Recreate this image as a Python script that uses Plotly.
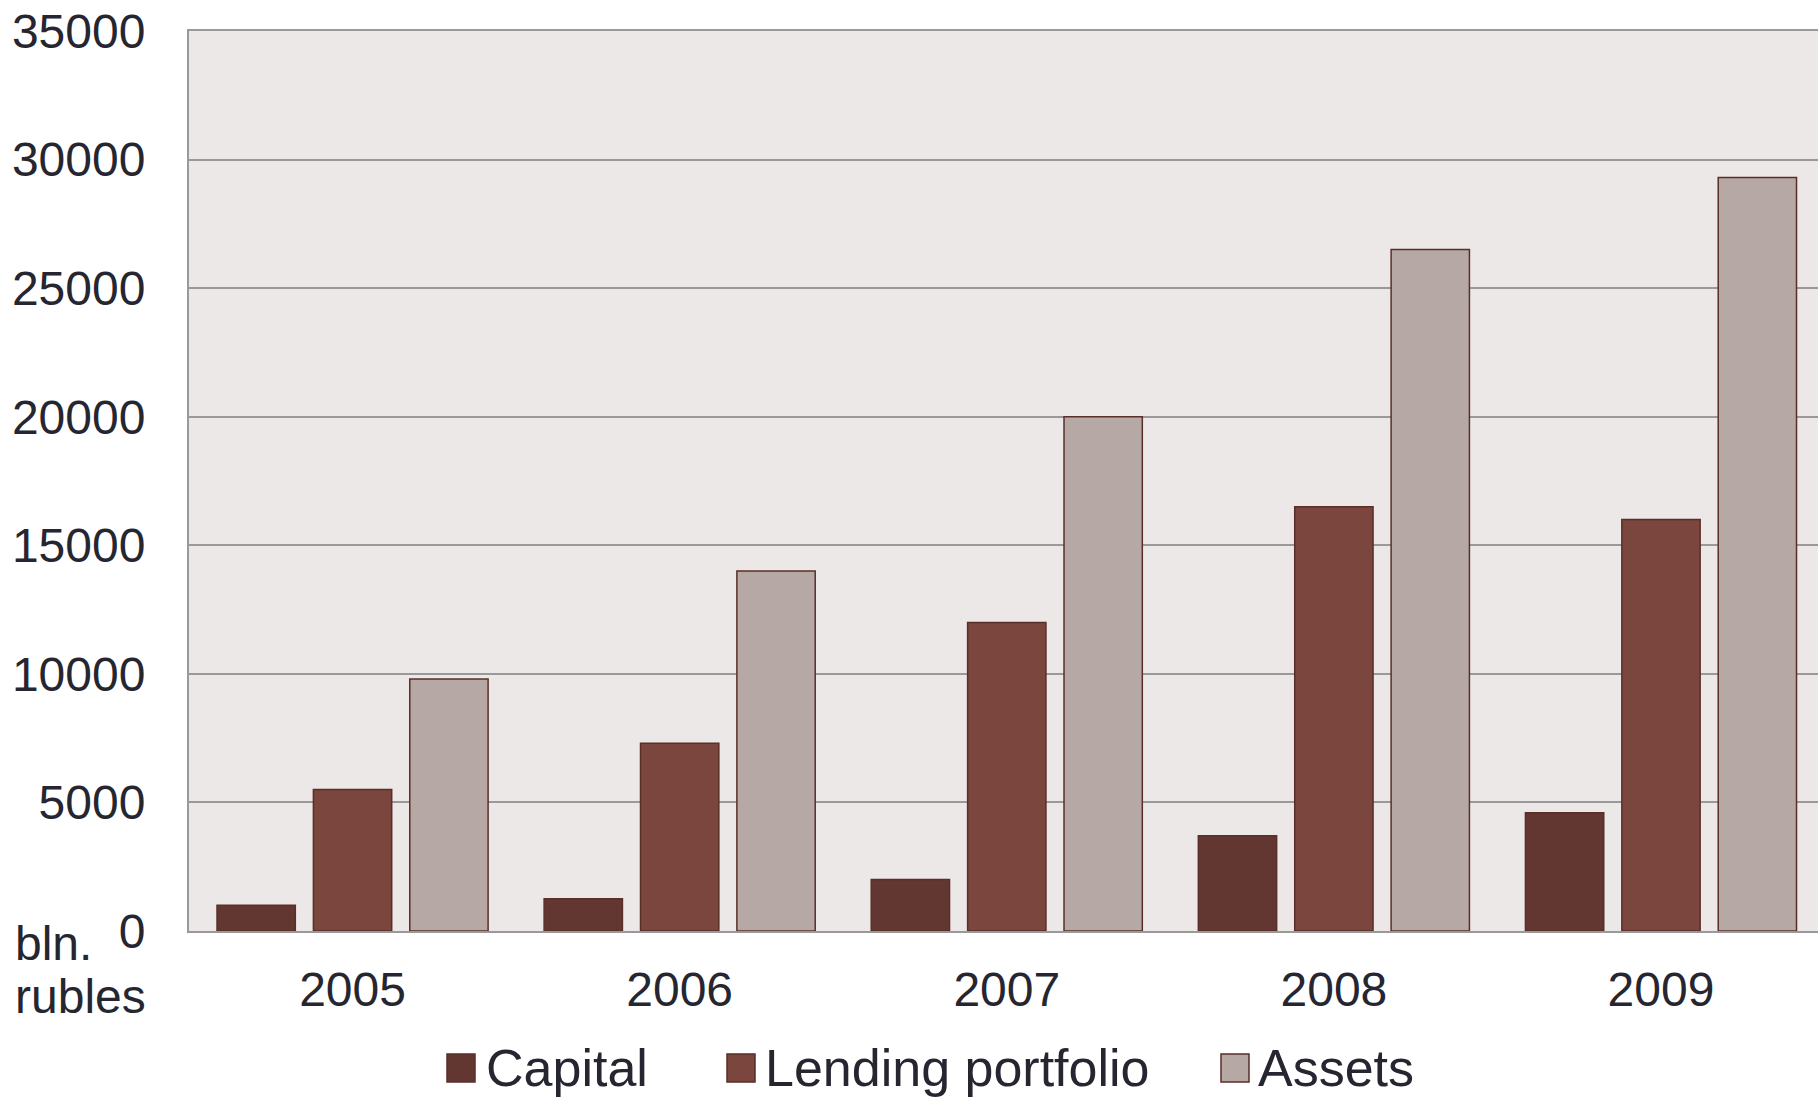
import plotly.graph_objects as go

years = ["2005", "2006", "2007", "2008", "2009"]
capital = [1000, 1250, 2000, 3700, 4600]
lending = [5500, 7300, 12000, 16500, 16000]
assets = [9800, 14000, 20000, 26500, 29300]
series_names = ["Capital", "Lending portfolio", "Assets"]
y_ticks = [0, 5000, 10000, 15000, 20000, 25000, 30000, 35000]

colors = ["#633731", "#7A463D", "#B6A8A5"]
outline = "#5A2E29"
text_color = "#262631"
FONT = "Liberation Sans, Arial, sans-serif"

W, H = 1818, 1097
L, R, T, B = 189, 0, 31, 1097 - 931
PW, PH = W - L - R, H - T - B

def px_x(x):
    return (x - L) / PW

def px_y(y):
    return (H - B - y) / PH

fig = go.Figure()
for name, vals, c in zip(series_names, [capital, lending, assets], colors):
    fig.add_trace(go.Bar(
        x=years, y=vals, name=name, showlegend=False,
        marker=dict(color=c, line=dict(color=outline, width=1.5)),
    ))

fig.update_layout(
    width=W, height=H,
    margin=dict(l=L, r=R, t=T, b=B),
    paper_bgcolor="white",
    plot_bgcolor="#ECE8E7",
    barmode="group",
    bargap=0.116,
    bargroupgap=0.1875,
    font=dict(family=FONT, size=48, color=text_color),
    xaxis=dict(
        range=[-0.5, 4.48],
        showgrid=False, showline=True, linecolor="#999999", linewidth=2, mirror=True,
        ticks="", ticklabelstandoff=15, tickfont=dict(size=48),
    ),
    yaxis=dict(
        range=[0, 35000], tickvals=y_ticks, ticktext=[str(v) for v in y_ticks],
        showgrid=True, gridcolor="#999999", gridwidth=2,
        showline=True, linecolor="#999999", linewidth=2,
        zeroline=False, ticks="", ticklabelstandoff=32, tickfont=dict(size=48),
        ticklabeloverflow="allow",
    ),
)

# axis unit label
fig.add_annotation(text="bln.", xref="paper", yref="paper", x=px_x(13), y=px_y(943),
                   xanchor="left", yanchor="middle", showarrow=False, font=dict(size=48))
fig.add_annotation(text="rubles", xref="paper", yref="paper", x=px_x(13), y=px_y(997),
                   xanchor="left", yanchor="middle", showarrow=False, font=dict(size=48))

# legend (manual, to match large square swatches)
leg_sq_x = [447, 727, 1221]
leg_txt_x = [484, 763, 1256]
leg_y = 1068
sq = 28
for name, c, sx, tx in zip(series_names, colors, leg_sq_x, leg_txt_x):
    fig.add_shape(type="rect", xref="paper", yref="paper",
                  x0=px_x(sx), x1=px_x(sx + sq), y0=px_y(leg_y - sq / 2), y1=px_y(leg_y + sq / 2),
                  fillcolor=c, line=dict(color=outline, width=1.5))
    fig.add_annotation(text=name, xref="paper", yref="paper", x=px_x(tx), y=px_y(leg_y),
                       xanchor="left", yanchor="middle", showarrow=False, font=dict(size=52))

fig.write_html(
    "out.html",
    config={"displayModeBar": False},
    post_script="document.body.style.margin='0';document.body.style.overflow='hidden';",
)
